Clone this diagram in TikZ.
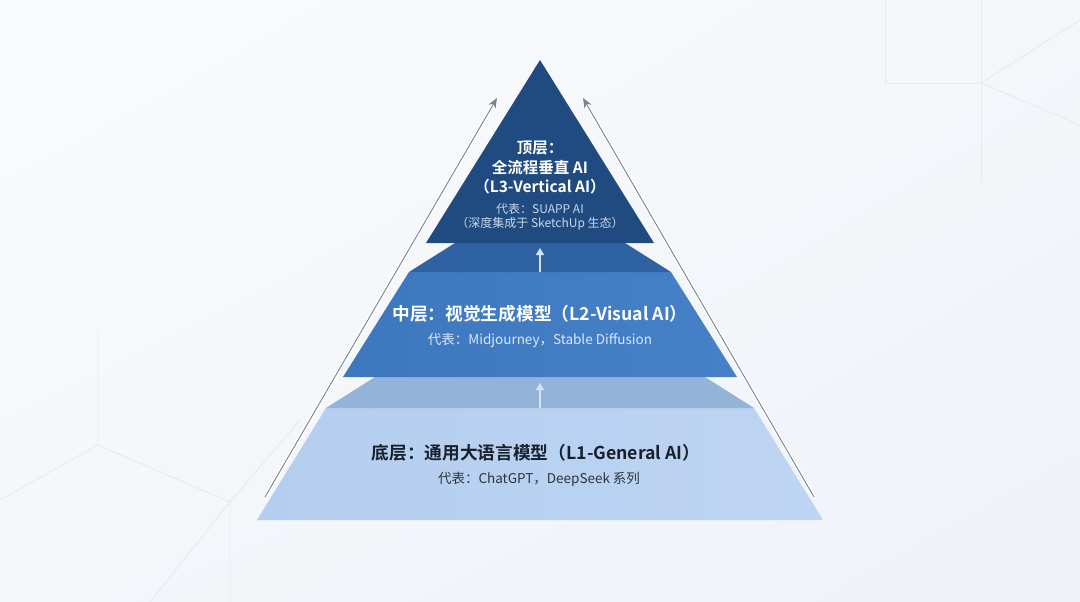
\documentclass[tikz,border=0pt]{standalone}
\usepackage{fontspec}
\setmainfont{Noto Sans CJK SC}
\newfontfamily\cjkb{Noto Sans CJK SC Bold}
\usetikzlibrary{arrows.meta,shadings}
\definecolor{bgA}{HTML}{FAFBFD}
\definecolor{bgB}{HTML}{EEF2F7}
\definecolor{bgC}{HTML}{F4F6FA}
\definecolor{bgline}{HTML}{E6EAF0}
\definecolor{topc}{HTML}{1F4B80}
\definecolor{midband}{HTML}{2F62A2}
\definecolor{midface}{HTML}{3D78BF}
\definecolor{midfaceB}{HTML}{4680C6}
\definecolor{botband}{HTML}{94B3D8}
\definecolor{botface}{HTML}{B5CEEF}
\definecolor{botfaceB}{HTML}{BDD5F2}
\definecolor{arrowgray}{HTML}{76818F}
\definecolor{smallarrow}{HTML}{D2E3F6}
\definecolor{topsub}{HTML}{C9D7EA}
\definecolor{midsub}{HTML}{DCE8F7}
\definecolor{botmain}{HTML}{18202C}
\definecolor{botsub}{HTML}{2A3444}
\tikzset{
  titletext/.style={font=\cjkb\fontsize{17.7}{20}\selectfont, inner sep=0pt, anchor=center},
  toptext/.style={font=\cjkb\fontsize{15.5}{19.5}\selectfont, inner sep=0pt, anchor=center, text=white},
  subtext/.style={font=\fontsize{13.5}{16}\selectfont, inner sep=0pt, anchor=center},
  topsubtext/.style={font=\fontsize{12}{15}\selectfont, inner sep=0pt, anchor=center, text=topsub},
  outerarrow/.style={draw=arrowgray, line width=0.9pt, -{Stealth[length=10pt,width=8pt]}},
  outerglow/.style={draw=white, line width=3.5pt},
  innerarrow/.style={draw=smallarrow, line width=1.3pt, -{Triangle[length=7pt,width=8pt]}},
  bglines/.style={draw=bgline, line width=0.8pt}
}
\begin{document}
\begin{tikzpicture}[x=1pt,y=-1pt]
\useasboundingbox (0,0) rectangle (1080,602);
\shade[upper left=bgA, lower right=bgB, upper right=bgC, lower left=bgC] (0,0) rectangle (1080,602);
% faint background geometry
\draw[bglines] (885,0) -- (885,83) -- (980,83);
\draw[bglines] (981,0) -- (981,183);
\draw[bglines] (981,83) -- (1080,20);
\draw[bglines] (981,83) -- (1080,125);
\draw[bglines] (98,330) -- (98,445) -- (230,502) -- (230,602);
\draw[bglines] (98,445) -- (0,500);
\draw[bglines] (230,502) -- (300,420);
\draw[bglines] (230,502) -- (150,602);
% coordinates
\coordinate (apex) at (540,60);
\coordinate (tl) at (426,243);
\coordinate (tr) at (654,243);
\coordinate (mbtl) at (455,243);
\coordinate (mbtr) at (625,243);
\coordinate (mftl) at (409,272);
\coordinate (mftr) at (671,272);
\coordinate (mfbl) at (343,377);
\coordinate (mfbr) at (737,377);
\coordinate (bbtl) at (375,377);
\coordinate (bbtr) at (705,377);
\coordinate (bftl) at (326,408);
\coordinate (bftr) at (754,408);
\coordinate (bfbl) at (257,520);
\coordinate (bfbr) at (823,520);
% layers
\shade[left color=botface, right color=botfaceB] (bftl) -- (bftr) -- (bfbr) -- (bfbl) -- cycle;
\fill[botband] (bbtl) -- (bbtr) -- (bftr) -- (bftl) -- cycle;
\shade[left color=midface, right color=midfaceB] (mftl) -- (mftr) -- (mfbr) -- (mfbl) -- cycle;
\fill[midband] (mbtl) -- (mbtr) -- (mftr) -- (mftl) -- cycle;
\fill[topc] (apex) -- (tr) -- (tl) -- cycle;
% small arrows
\coordinate (a1s) at (540,272);
\coordinate (a1e) at (540,248);
\coordinate (a2s) at (540,408);
\coordinate (a2e) at (540,383);
\draw[innerarrow] (a1s) -- (a1e);
\draw[innerarrow] (a2s) -- (a2e);
% outer arrows
\coordinate (las) at (265,497);
\coordinate (lae) at (497,98);
\coordinate (ras) at (814,497);
\coordinate (rae) at (583,98);
\draw[outerglow] (las) -- (lae);
\draw[outerglow] (ras) -- (rae);
\draw[outerarrow] (las) -- (lae);
\draw[outerarrow] (ras) -- (rae);
% top texts
\node[toptext] (t1) at (540,148) {顶层：};
\node[toptext] (t2) at (540,168) {全流程垂直 AI};
\node[toptext] (t3) at (540,187) {（L3-Vertical AI）};
\node[topsubtext] (t4) at (540,209) {代表：SUAPP AI};
\node[topsubtext] (t5) at (540,224) {（深度集成于 SketchUp 生态）};
% middle texts
\node[titletext, text=white] (m1) at (540,314) {中层：视觉生成模型（L2-Visual AI）};
\node[subtext, text=midsub] (m2) at (540,340) {代表：Midjourney，Stable Diffusion};
% bottom texts
\node[titletext, text=botmain] (b1) at (536,453) {底层：通用大语言模型（L1-General AI）};
\node[subtext, text=botsub] (b2) at (539,479) {代表：ChatGPT，DeepSeek 系列};
\end{tikzpicture}
\end{document}
